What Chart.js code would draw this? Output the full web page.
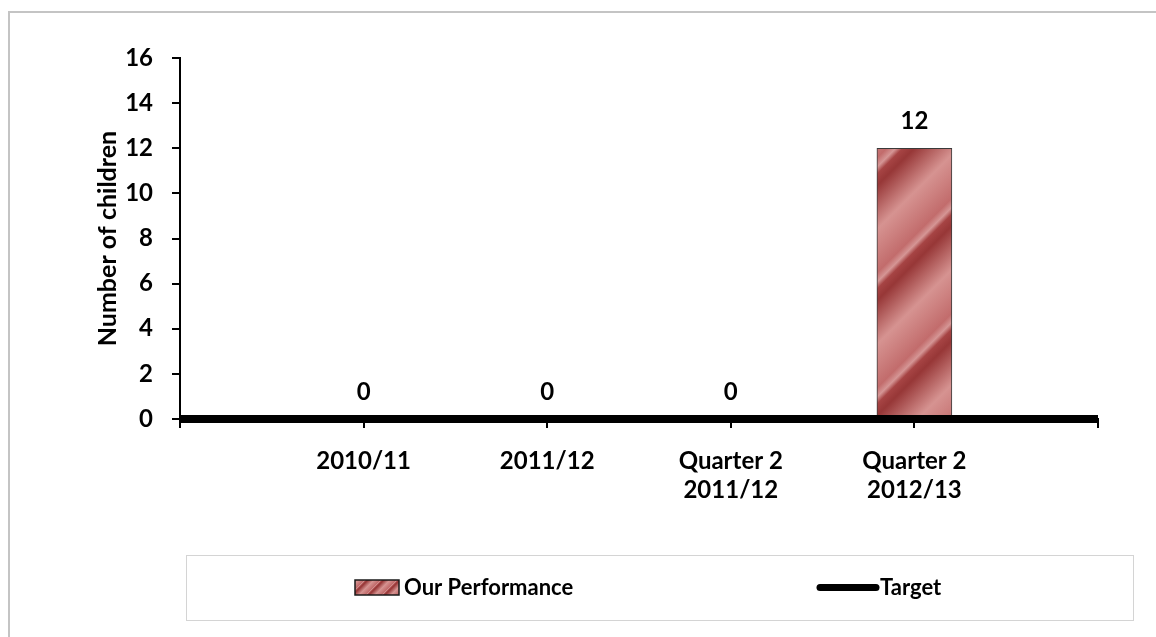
<!DOCTYPE html>
<html>
<head>
<meta charset="utf-8">
<script src="https://cdn.jsdelivr.net/npm/chart.js@4/dist/chart.umd.min.js"></script>
<style>
  html, body { margin: 0; padding: 0; background: #ffffff; }
  canvas { display: block; }
</style>
</head>
<body>
<canvas id="chart" width="1156" height="637"></canvas>
<script>
// Categories (empty slots at both ends keep the axis running past the data)
const categories = ['', '2010/11', '2011/12', ['Quarter 2', '2011/12'], ['Quarter 2', '2012/13'], ''];
// Number of children per period
const performance = [null, 0, 0, 0, 12, null];
// Target level across the whole axis
const target = [0, 0, 0, 0, 0, 0];
// Value axis range
const yMin = 0;
const yMax = 16;
const yStep = 2;
const seriesNames = ['Our Performance', 'Target'];
const yTitle = 'Number of children';

const FONT = 'Lato, "Liberation Sans", sans-serif';

// Diagonal striped red fill, repeating every `period` px along x+y
function stripePattern(period) {
  const c = document.createElement('canvas');
  c.width = period; c.height = period;
  const g = c.getContext('2d');
  const grad = g.createLinearGradient(0, 0, period, period);
  const stops = [
    [0.00, '#c26c6c'],
    [0.08, '#d59695'],
    [0.14, '#a64444'],
    [0.24, '#973737'],
    [0.62, '#d69391'],
    [1.00, '#c26c6c']
  ];
  for (let k = 0; k < 2; k++) {
    stops.forEach(([t, col]) => grad.addColorStop((k + t) / 2, col));
  }
  g.fillStyle = grad;
  g.fillRect(0, 0, period, period);
  return g.createPattern(c, 'repeat');
}
const barFill = stripePattern(115);
const swatchFill = stripePattern(16);

// White page with the grey frame along the top and left edges
const framePlugin = {
  id: 'frame',
  beforeDraw(chart) {
    const ctx = chart.ctx;
    ctx.save();
    ctx.fillStyle = '#ffffff';
    ctx.fillRect(0, 0, chart.width, chart.height);
    ctx.strokeStyle = '#c4c4c4';
    ctx.lineWidth = 2;
    ctx.beginPath();
    ctx.moveTo(9, chart.height);
    ctx.lineTo(9, 12);
    ctx.lineTo(chart.width, 12);
    ctx.stroke();
    ctx.restore();
  }
};

// Value labels above each bar
const valueLabelPlugin = {
  id: 'valueLabels',
  afterDatasetsDraw(chart) {
    const ctx = chart.ctx;
    const meta = chart.getDatasetMeta(0);
    const data = chart.data.datasets[0].data;
    ctx.save();
    ctx.font = 'bold 24px ' + FONT;
    ctx.fillStyle = '#000000';
    ctx.textAlign = 'center';
    ctx.textBaseline = 'middle';
    meta.data.forEach((el, i) => {
      if (data[i] === null || data[i] === undefined) return;
      ctx.fillText(String(data[i]), el.x, el.y - 27);
    });
    ctx.restore();
  }
};

// Boxed legend below the plot
const legendBoxPlugin = {
  id: 'legendBox',
  afterDraw(chart) {
    const ctx = chart.ctx;
    const ds = chart.data.datasets;
    const box = { x: 186, y: 555, w: 947, h: 65 };
    const cy = box.y + box.h / 2;
    ctx.save();
    ctx.strokeStyle = '#d4d4d4';
    ctx.lineWidth = 1;
    ctx.strokeRect(box.x + 0.5, box.y + 0.5, box.w, box.h);

    ctx.font = 'bold 22px ' + FONT;
    ctx.fillStyle = '#000000';
    ctx.textAlign = 'left';
    ctx.textBaseline = 'middle';

    // bar entry
    const sx = 355, sw = 44, sh = 15;
    ctx.fillStyle = swatchFill;
    ctx.fillRect(sx, cy - sh / 2, sw, sh);
    ctx.strokeStyle = '#1a1a1a';
    ctx.lineWidth = 1.5;
    ctx.strokeRect(sx, cy - sh / 2, sw, sh);
    ctx.fillStyle = '#000000';
    ctx.fillText(ds[0].label, sx + sw + 5, cy);

    // line entry
    const lx = 820, lw = 56;
    ctx.strokeStyle = '#000000';
    ctx.lineWidth = 7;
    ctx.lineCap = 'round';
    ctx.beginPath();
    ctx.moveTo(lx, cy);
    ctx.lineTo(lx + lw, cy);
    ctx.stroke();
    ctx.fillText(ds[1].label, lx + lw + 4, cy);
    ctx.restore();
  }
};

Chart.defaults.font.family = FONT;
Chart.defaults.font.weight = 'bold';
Chart.defaults.color = '#000000';

new Chart(document.getElementById('chart'), {
  type: 'bar',
  data: {
    labels: categories,
    datasets: [
      {
        type: 'bar',
        label: seriesNames[0],
        data: performance,
        backgroundColor: barFill,
        borderColor: '#3a3a3a',
        borderWidth: 1,
        barThickness: 75,
        order: 2
      },
      {
        type: 'line',
        label: seriesNames[1],
        data: target,
        borderColor: '#000000',
        borderWidth: 8,
        borderCapStyle: 'butt',
        pointRadius: 0,
        fill: false,
        clip: false,
        order: 1
      }
    ]
  },
  options: {
    responsive: false,
    animation: false,
    devicePixelRatio: 1,
    layout: { padding: { left: 0, top: 58, right: 58, bottom: 118 } },
    plugins: {
      legend: { display: false },
      tooltip: { enabled: false },
      title: { display: false }
    },
    scales: {
      x: {
        offset: false,
        grid: {
          offset: false,
          drawOnChartArea: false,
          drawTicks: true,
          tickLength: 9,
          color: '#000000',
          lineWidth: 2
        },
        border: { display: true, color: '#000000', width: 2 },
        ticks: {
          autoSkip: false,
          maxRotation: 0,
          minRotation: 0,
          padding: 19,
          font: { size: 24, weight: 'bold', lineHeight: 1.2 },
          color: '#000000'
        },
        afterFit(scale) { scale.height = 100; }
      },
      y: {
        min: yMin,
        max: yMax,
        ticks: {
          stepSize: yStep,
          padding: 19,
          font: { size: 24, weight: 'bold' },
          color: '#000000'
        },
        grid: {
          drawOnChartArea: false,
          drawTicks: true,
          tickLength: 8,
          color: '#000000',
          lineWidth: 2
        },
        border: { display: true, color: '#000000', width: 2 },
        title: {
          display: true,
          text: yTitle,
          font: { size: 25, weight: 'bold' },
          color: '#000000',
          padding: { top: 93, bottom: 0 }
        },
        afterFit(scale) { scale.width = 180; }
      }
    }
  },
  plugins: [framePlugin, valueLabelPlugin, legendBoxPlugin]
});
</script>
</body>
</html>
